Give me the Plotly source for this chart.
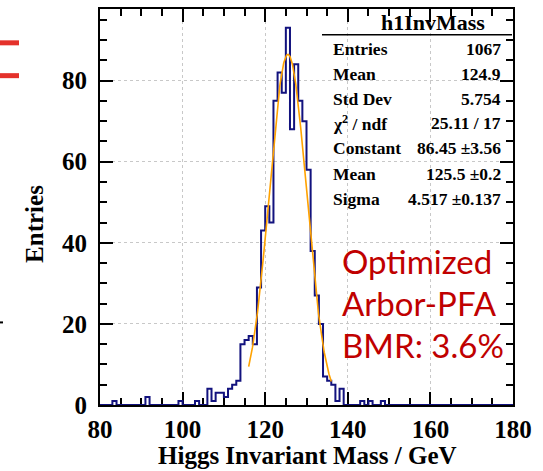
import numpy as np
import plotly.graph_objects as go

# ---------------- data ----------------
x_min, x_max = 80, 180          # histogram range (GeV), 1 GeV bins
bin_edges = list(range(x_min, x_max + 1))
counts = [
    0, 0, 0, 1, 0, 0, 0, 0, 0, 0,        # 80-89
    0, 2, 0, 0, 0, 0, 0, 0, 0, 1,        # 90-99
    0, 0, 0, 1, 0, 0, 4, 1, 3, 3,        # 100-109
    2, 4, 5, 6, 15, 16, 17, 15, 29, 43,  # 110-119
    49, 45, 75, 82, 77, 93, 68, 84, 75, 70,  # 120-129
    58, 38, 27, 20, 7, 6, 5, 1, 4, 0,    # 130-139
    0, 0, 0, 1, 0, 1, 0, 0, 1, 0,        # 140-149
    0, 0, 0, 0, 0, 0, 0, 0, 0, 0,        # 150-159
    0, 0, 0, 0, 0, 0, 0, 0, 0, 0,        # 160-169
    0, 0, 0, 0, 0, 0, 0, 0, 0, 0,        # 170-179
]
y_max = 97.65

# Gaussian fit parameters (from the stats box)
fit_constant = 86.45
fit_mean = 125.5
fit_sigma = 4.517
fit_range = (116.0, 136.0)

stats_title = "h1InvMass"
stats_labels = ["Entries", "Mean", "Std Dev", "χ<sup>2</sup> / ndf", "Constant", "Mean", "Sigma"]
stats_values = ["1067", "124.9", "5.754", "25.11 / 17", "86.45 ±3.56", "125.5 ±0.2", "4.517 ±0.137"]

note_lines = ["Optimized", "Arbor-PFA", "BMR: 3.6%"]

x_title = "Higgs Invariant Mass / GeV"
y_title = "Entries"

# ---------------- geometry helpers ----------------
W, H = 543, 471
ML, MR, MT, MB = 100, 30, 7, 66
PW, PH = W - ML - MR, H - MT - MB


def px(xp):
    return (xp - ML) / PW


def py(yp):
    return (H - MB - yp) / PH


SERIF = "Liberation Serif"

fig = go.Figure()

# histogram outline
fig.add_trace(go.Scatter(
    x=bin_edges,
    y=counts + [counts[-1]],
    mode="lines",
    line=dict(shape="hv", color="#12127e", width=2),
    cliponaxis=False,
    hoverinfo="skip",
    showlegend=False,
))

# fit curve
fx = np.linspace(fit_range[0], fit_range[1], 200)
fy = fit_constant * np.exp(-0.5 * ((fx - fit_mean) / fit_sigma) ** 2)
fig.add_trace(go.Scatter(
    x=fx, y=fy, mode="lines",
    line=dict(color="#FFA200", width=1.6),
    hoverinfo="skip", showlegend=False,
))

axis_common = dict(
    showline=True, linecolor="black", linewidth=2, mirror="ticks",
    ticks="inside", ticklen=13, tickwidth=1.5, tickcolor="black",
    showgrid=True, gridcolor="#c8c8c8", griddash="dot", gridwidth=1,
    zeroline=False,
    tickfont=dict(family=SERIF, size=25, color="black", weight="bold"),
    minor=dict(ticks="inside", ticklen=7, dtick=5, tickwidth=1.5, tickcolor="black", showgrid=False),
    layer="below traces",
)

fig.update_xaxes(range=[x_min, x_max], dtick=20, tick0=80, ticklabelstandoff=1, **axis_common)
fig.update_yaxes(range=[0, y_max], dtick=20, tick0=0, ticklabelstandoff=6, **axis_common)

annotations = []
# axis titles
annotations.append(dict(
    x=px(307), y=py(456), xref="paper", yref="paper", text=f"<b>{x_title}</b>",
    showarrow=False, xanchor="center", yanchor="middle",
    font=dict(family=SERIF, size=25, color="black")))
annotations.append(dict(
    x=px(35), y=py(223), xref="paper", yref="paper", text=f"<b>{y_title}</b>",
    showarrow=False, xanchor="center", yanchor="middle", textangle=-90,
    font=dict(family=SERIF, size=25, color="black")))

# stats box
annotations.append(dict(
    x=px(433), y=py(21), xref="paper", yref="paper", text=f"<b>{stats_title}</b>",
    showarrow=False, xanchor="center", yanchor="middle",
    font=dict(family=SERIF, size=22, color="black")))
row_y = [47, 72, 97, 122, 147, 173, 198]
for lab, val, yy in zip(stats_labels, stats_values, row_y):
    annotations.append(dict(
        x=px(331), y=py(yy), xref="paper", yref="paper", text=f"<b>{lab}</b>",
        showarrow=False, xanchor="left", yanchor="middle",
        font=dict(family=SERIF, size=17.5, color="black")))
    annotations.append(dict(
        x=px(503), y=py(yy), xref="paper", yref="paper", text=f"<b>{val}</b>",
        showarrow=False, xanchor="right", yanchor="middle",
        font=dict(family=SERIF, size=17.5, color="black")))

# red note
for line, yy in zip(note_lines, [260, 302, 345]):
    annotations.append(dict(
        x=px(340), y=py(yy), xref="paper", yref="paper", text=line,
        showarrow=False, xanchor="left", yanchor="middle",
        font=dict(family="Lato", size=33, color="#C00000")))

shapes = [
    # separator under stats title
    dict(type="line", xref="paper", yref="paper", x0=px(322), x1=px(512), y0=py(33), y1=py(33),
         line=dict(color="black", width=1.5)),
    # slide fragments at the left edge
    dict(type="line", xref="paper", yref="paper", x0=px(0), x1=px(19), y0=py(41), y1=py(41),
         line=dict(color="#E4312B", width=5)),
    dict(type="line", xref="paper", yref="paper", x0=px(0), x1=px(19), y0=py(74), y1=py(74),
         line=dict(color="#E4312B", width=5)),
    dict(type="line", xref="paper", yref="paper", x0=px(0), x1=px(3), y0=py(322), y1=py(322),
         line=dict(color="black", width=2)),
]

fig.update_layout(
    width=W, height=H, autosize=False,
    margin=dict(l=ML, r=MR, t=MT, b=MB, pad=0),
    paper_bgcolor="white", plot_bgcolor="white",
    showlegend=False,
    annotations=annotations,
    shapes=shapes,
)

fig.write_html("out.html")
